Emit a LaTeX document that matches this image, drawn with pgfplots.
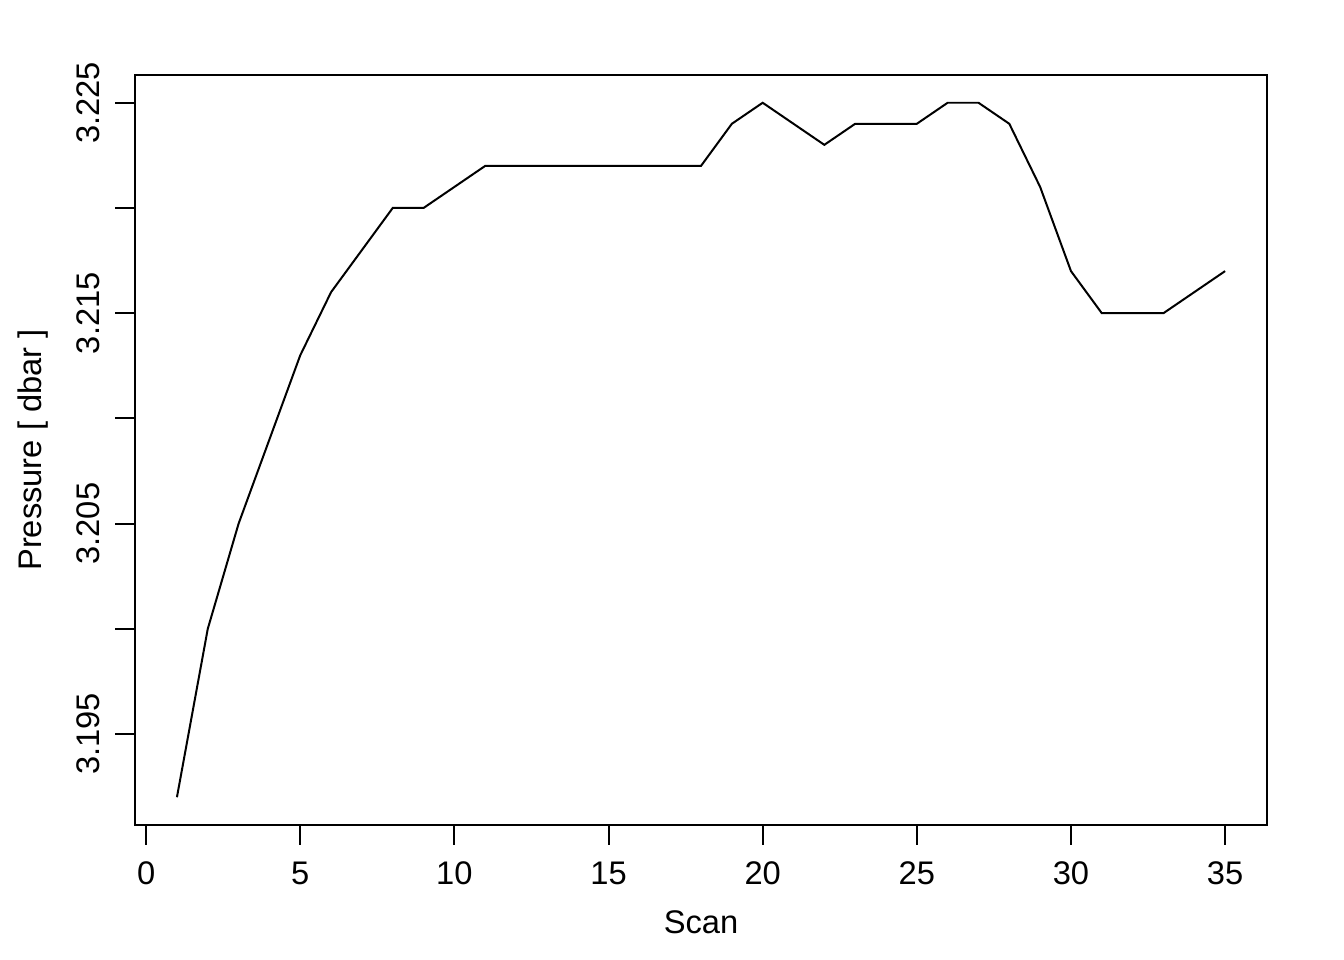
\documentclass[border=0pt]{standalone}
\usepackage{fontspec}
\setmainfont{Liberation Sans}
\usepackage{pgfplots}
\pgfplotsset{compat=1.18}
\begin{document}
\fontsize{12}{14}\selectfont
\begin{tikzpicture}
\path[use as bounding box, fill=white] (-50.82pt,-50.82pt) rectangle ++(505.89pt,361.35pt);
\begin{axis}[
  at={(0,0)}, anchor=south west,
  scale only axis, width=426.1pt, height=282.3pt,
  xmin=-0.36, xmax=36.36, ymin=3.19068, ymax=3.22632,
  axis line style={line width=0.75pt},
  every tick/.style={black, line width=0.75pt},
  tick align=outside, major tick length=7.5pt,
  tick pos=left,
  xtick={0,5,...,35},
  ytick={3.195,3.2,3.205,3.21,3.215,3.22,3.225},
  yticklabels={3.195,,3.205,,3.215,,3.225},
  /pgf/number format/assume math mode=true,
  ticklabel style={font=\fontsize{12.3}{14}\selectfont},
  xticklabel style={yshift=-2.2pt},
  yticklabel style={rotate=90, anchor=south, yshift=1.5pt},
  label style={font=\fontsize{12.3}{14}\selectfont},
  xlabel={Scan}, ylabel={Pressure [ dbar ]},
  xlabel style={at={(axis description cs:0.5,-0.1293)}, anchor=center},
  ylabel style={at={(axis description cs:-0.0901,0.5)}, anchor=center},
]
\addplot[black, line width=0.75pt] coordinates {
(1,3.192) (2,3.200) (3,3.205) (4,3.209) (5,3.213) (6,3.216) (7,3.218) (8,3.220)
(9,3.220) (10,3.221) (11,3.222) (12,3.222) (13,3.222) (14,3.222) (15,3.222)
(16,3.222) (17,3.222) (18,3.222) (19,3.224) (20,3.225) (21,3.224) (22,3.223)
(23,3.224) (24,3.224) (25,3.224) (26,3.225) (27,3.225) (28,3.224) (29,3.221)
(30,3.217) (31,3.215) (32,3.215) (33,3.215) (34,3.216) (35,3.217)
};
\end{axis}
\end{tikzpicture}
\end{document}
